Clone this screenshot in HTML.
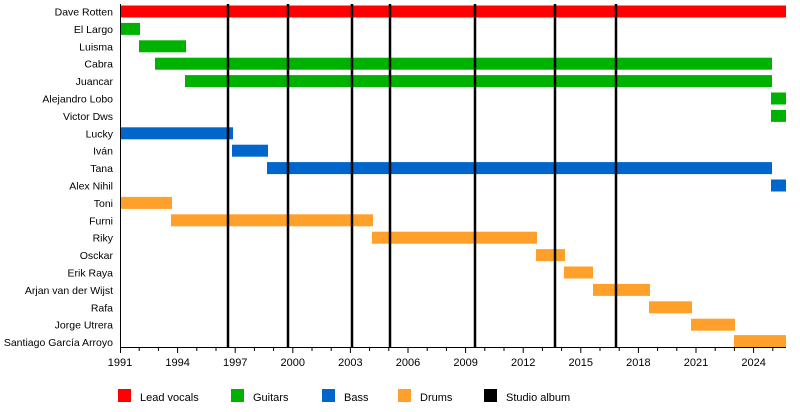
<!DOCTYPE html>
<html><head><style>
html,body{margin:0;padding:0;background:#fff;}
svg text{font-family:"Liberation Sans",sans-serif;font-size:11px;fill:#000;}
svg g.yl text{font-size:10.5px;}
</style></head><body>
<svg width="800" height="407" xmlns="http://www.w3.org/2000/svg">
<g>
<rect x="120" y="5.5" width="666" height="12" fill="#ff0000"/>
<rect x="120" y="22.9" width="20" height="12" fill="#00b200"/>
<rect x="139" y="40.3" width="47" height="12" fill="#00b200"/>
<rect x="155" y="57.7" width="617" height="12" fill="#00b200"/>
<rect x="185" y="75.1" width="587" height="12" fill="#00b200"/>
<rect x="771" y="92.5" width="15" height="12" fill="#00b200"/>
<rect x="771" y="109.9" width="15" height="12" fill="#00b200"/>
<rect x="120" y="127.3" width="113" height="12" fill="#0066cc"/>
<rect x="232" y="144.7" width="36" height="12" fill="#0066cc"/>
<rect x="267" y="162.1" width="505" height="12" fill="#0066cc"/>
<rect x="771" y="179.5" width="15" height="12" fill="#0066cc"/>
<rect x="120" y="196.9" width="52" height="12" fill="#ffa02a"/>
<rect x="171" y="214.3" width="202" height="12" fill="#ffa02a"/>
<rect x="372" y="231.7" width="165" height="12" fill="#ffa02a"/>
<rect x="536" y="249.1" width="29" height="12" fill="#ffa02a"/>
<rect x="564" y="266.5" width="29" height="12" fill="#ffa02a"/>
<rect x="593" y="283.9" width="57" height="12" fill="#ffa02a"/>
<rect x="649" y="301.3" width="43" height="12" fill="#ffa02a"/>
<rect x="691" y="318.7" width="44" height="12" fill="#ffa02a"/>
<rect x="734" y="335.1" width="52" height="12" fill="#ffa02a"/>
</g>
<g class="yl" text-anchor="end">
<text x="113" y="15.5">Dave Rotten</text>
<text x="113" y="32.9">El Largo</text>
<text x="113" y="50.3">Luisma</text>
<text x="113" y="67.7">Cabra</text>
<text x="113" y="85.1">Juancar</text>
<text x="113" y="102.5">Alejandro Lobo</text>
<text x="113" y="119.9">Victor Dws</text>
<text x="113" y="137.3">Lucky</text>
<text x="113" y="154.7">Iván</text>
<text x="113" y="172.1">Tana</text>
<text x="113" y="189.5">Alex Nihil</text>
<text x="113" y="206.9">Toni</text>
<text x="113" y="224.3">Furni</text>
<text x="113" y="241.7">Riky</text>
<text x="113" y="259.1">Osckar</text>
<text x="113" y="276.5">Erik Raya</text>
<text x="113" y="293.9">Arjan van der Wijst</text>
<text x="113" y="311.3">Rafa</text>
<text x="113" y="328.7">Jorge Utrera</text>
<text x="113" y="346.1">Santiago García Arroyo</text>
</g>
<g fill="#000">
<rect x="226.75" y="4" width="2.5" height="343"/>
<rect x="286.75" y="4" width="2.5" height="343"/>
<rect x="350.75" y="4" width="2.5" height="343"/>
<rect x="388.75" y="4" width="2.5" height="343"/>
<rect x="473.75" y="4" width="2.5" height="343"/>
<rect x="553.75" y="4" width="2.5" height="343"/>
<rect x="614.75" y="4" width="2.5" height="343"/>
</g>
<line x1="120.5" y1="4" x2="120.5" y2="347" stroke="#000"/>
<line x1="120" y1="347.5" x2="786" y2="347.5" stroke="#000"/>
<path stroke="#000" fill="none" d="M120.5 347v6M139.2 347v4M158.4 347v4M177.6 347v6M196.8 347v4M216 347v4M235.2 347v6M254.4 347v4M273.6 347v4M292.8 347v6M312 347v4M331.2 347v4M350.4 347v6M369.6 347v4M388.8 347v4M408 347v6M427.2 347v4M446.4 347v4M465.6 347v6M484.8 347v4M504 347v4M523.2 347v6M542.4 347v4M561.6 347v4M580.8 347v6M600 347v4M619.2 347v4M638.4 347v6M657.6 347v4M676.8 347v4M696 347v6M715.2 347v4M734.4 347v4M753.6 347v6M772.8 347v4"/>
<g text-anchor="middle">
<text x="120" y="366">1991</text>
<text x="177.6" y="366">1994</text>
<text x="235.2" y="366">1997</text>
<text x="292.8" y="366">2000</text>
<text x="350.4" y="366">2003</text>
<text x="408" y="366">2006</text>
<text x="465.6" y="366">2009</text>
<text x="523.2" y="366">2012</text>
<text x="580.8" y="366">2015</text>
<text x="638.4" y="366">2018</text>
<text x="696" y="366">2021</text>
<text x="753.6" y="366">2024</text>
</g>
<rect x="118" y="389" width="13" height="13" fill="#ff0000"/><text x="140" y="401">Lead vocals</text>
<rect x="231" y="389" width="13" height="13" fill="#00b200"/><text x="253" y="401">Guitars</text>
<rect x="322" y="389" width="13" height="13" fill="#0066cc"/><text x="344" y="401">Bass</text>
<rect x="398" y="389" width="13" height="13" fill="#ffa02a"/><text x="420" y="401">Drums</text>
<rect x="484" y="389" width="13" height="13" fill="#000"/><text x="506" y="401">Studio album</text>
</svg>
</body></html>
